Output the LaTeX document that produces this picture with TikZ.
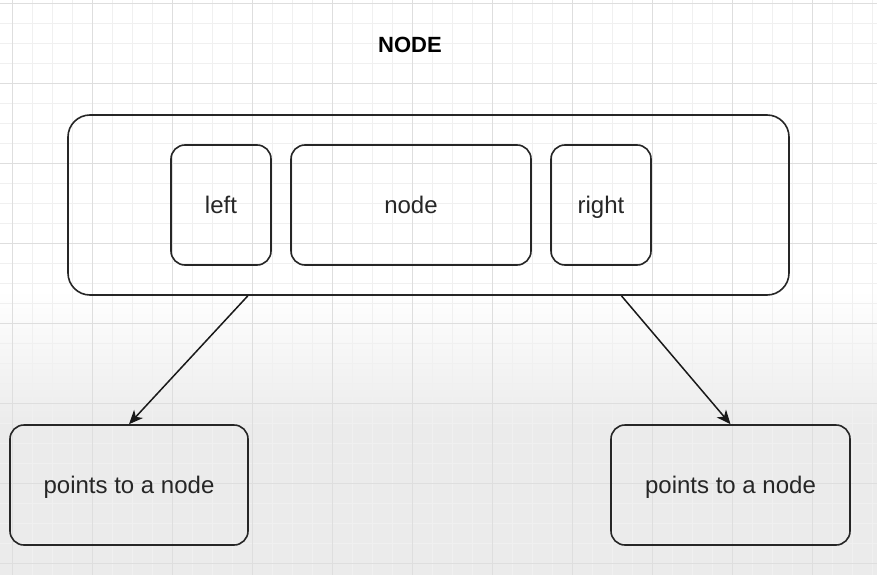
\documentclass[tikz,border=0pt]{standalone}
\usepackage{fontspec}
\setmainfont{Liberation Sans}
\usetikzlibrary{arrows.meta,calc}
\begin{document}
\begin{tikzpicture}[x=1pt,y=-1pt]
\tikzstyle{box}=[draw=black!85,line width=1.6pt,rounded corners=14pt,inner sep=0pt,text=black!85,text height=16pt,text depth=0pt,font=\fontsize{24}{28}\selectfont];
\tikzstyle{minor}=[black!6,line width=0.8pt];
\tikzstyle{major}=[black!13,line width=0.9pt];
\tikzstyle{link}=[black!90,line width=1.5pt,-{Stealth[length=14pt,width=12pt,inset=4pt]}];
\useasboundingbox (0,0) rectangle (877,575);
% background
\fill[white] (0,0) rectangle (877,290);
\shade[top color=white,bottom color=black!8] (0,290) rectangle (877,430);
\fill[black!8] (0,430) rectangle (877,575);
\foreach \x in {12,32,...,872} \draw[minor] (\x,0) -- (\x,575);
\foreach \y in {3,23,...,575} \draw[minor] (0,\y) -- (877,\y);
\foreach \x in {12,92,...,872} \draw[major] (\x,0) -- (\x,575);
\foreach \y in {3,83,...,575} \draw[major] (0,\y) -- (877,\y);
% diagram
\node[font=\bfseries\fontsize{22}{26}\selectfont] (title) at (410,45) {NODE};
\node[box,rounded corners=22pt,minimum width=721pt,minimum height=180pt] (outer) at (428.5,205) {};
\node[box,minimum width=100pt,minimum height=120pt] (left) at (221,205) {left};
\node[box,minimum width=240pt,minimum height=120pt] (mid) at (411,205) {node};
\node[box,minimum width=100pt,minimum height=120pt] (right) at (601,205) {right};
\node[box,minimum width=238pt,minimum height=120pt] (pleft) at (129,485) {points to a node};
\node[box,minimum width=239pt,minimum height=120pt] (pright) at (730.5,485) {points to a node};
\draw[link] ($(outer.south west)!0.25!(outer.south east)$) -- (pleft.north);
\draw[link] ($(outer.south west)!0.767!(outer.south east)$) -- (pright.north);
\end{tikzpicture}
\end{document}
